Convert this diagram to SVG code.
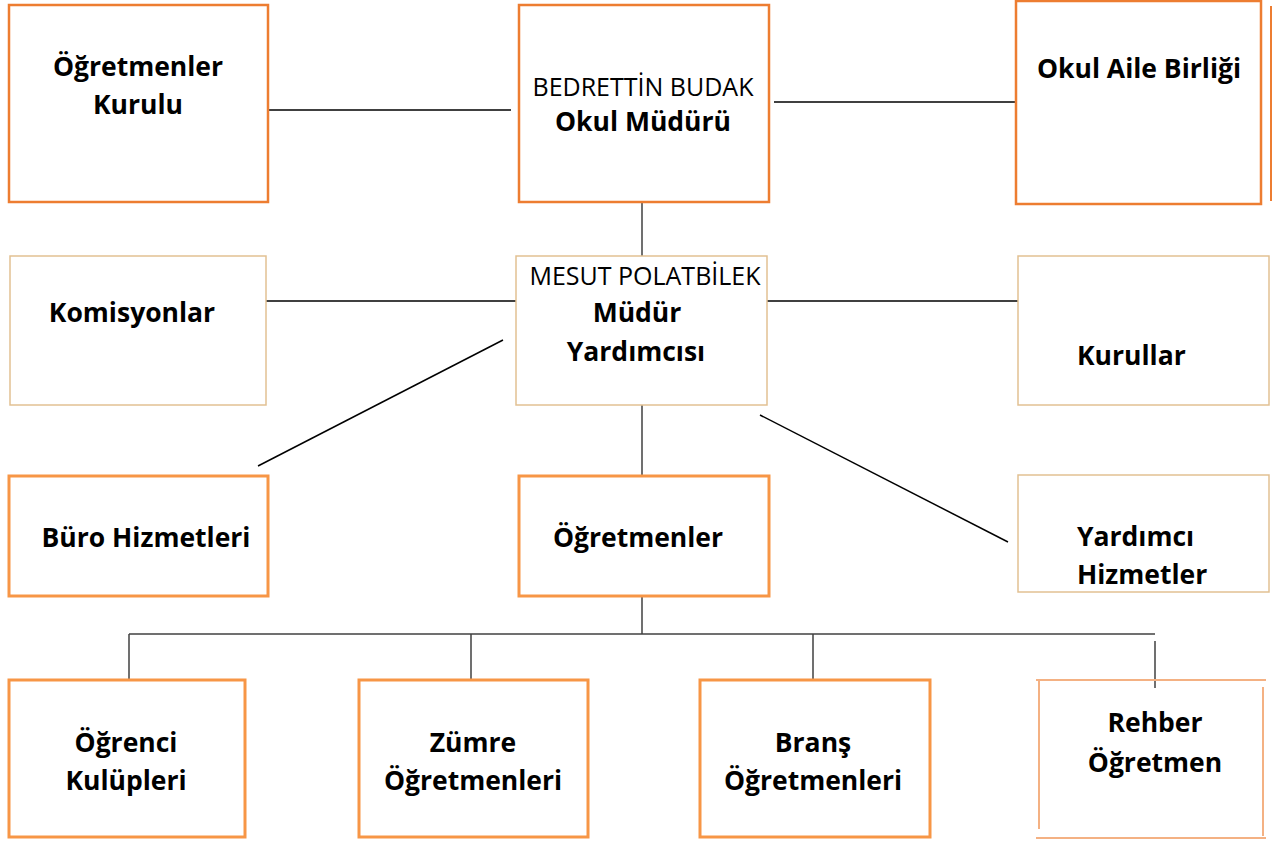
<svg xmlns="http://www.w3.org/2000/svg" width="1278" height="842" viewBox="0 0 1278 842">
<style>
text{font-family:"Open Sans","Noto Sans","Liberation Sans",sans-serif;font-size:25px;fill:#000;text-anchor:middle}
.b{font-weight:bold;font-size:26.5px}
.s{text-anchor:start}
.o1{fill:#fff;stroke:#ED7D31;stroke-width:2.5}
.o2{fill:#fff;stroke:#F79646;stroke-width:3}
.p{fill:#fff;stroke:#E2C193;stroke-width:1.5}
.r{stroke:#F4B183;stroke-width:2;fill:none}
.c{stroke:#000;stroke-width:1.5;fill:none}
.g{stroke:#404040;stroke-width:1.5;fill:none}
</style>
<rect width="1278" height="842" fill="#fff"/>
<g id="connectors">
<line class="c" x1="266" y1="110" x2="511" y2="110"/>
<line class="c" x1="774" y1="102" x2="1019" y2="102"/>
<line class="g" x1="642" y1="202" x2="642" y2="256"/>
<line class="c" x1="266" y1="301" x2="516" y2="301"/>
<line class="c" x1="767" y1="301" x2="1018" y2="301"/>
<line class="c" x1="503" y1="340" x2="258" y2="466"/>
<line class="c" x1="760" y1="415" x2="1008" y2="542"/>
<line class="g" x1="642" y1="405" x2="642" y2="476"/>
<line class="g" x1="642" y1="596" x2="642" y2="634"/>
<line class="g" x1="129" y1="634" x2="1155" y2="634"/>
<line class="g" x1="129" y1="634" x2="129" y2="680"/>
<line class="g" x1="471" y1="634" x2="471" y2="680"/>
<line class="g" x1="813" y1="634" x2="813" y2="680"/>
<line class="g" x1="1155" y1="641" x2="1155" y2="688"/>
</g>
<g id="ogretmenler-kurulu">
<rect class="o1" x="9" y="5" width="259" height="197"/>
<text class="b" x="138" y="76">Öğretmenler</text>
<text class="b" x="138" y="114">Kurulu</text>
</g>
<g id="okul-muduru">
<rect class="o1" x="519" y="5" width="250" height="197"/>
<text x="643" y="96">BEDRETTİN BUDAK</text>
<text class="b" x="643" y="131">Okul Müdürü</text>
</g>
<g id="okul-aile-birligi">
<rect class="o1" x="1016" y="1" width="245" height="203"/>
<line x1="1271" y1="6" x2="1271" y2="201" stroke="#ED7D31" stroke-width="2"/>
<text class="b" x="1139" y="78">Okul Aile Birliği</text>
</g>
<g id="komisyonlar">
<rect class="p" x="10" y="256" width="256" height="149"/>
<text class="b" x="132" y="322">Komisyonlar</text>
</g>
<g id="mudur-yardimcisi">
<rect class="p" x="516" y="256" width="251" height="149"/>
<text x="645" y="285">MESUT POLATBİLEK</text>
<text class="b" x="637" y="322">Müdür</text>
<text class="b" x="636" y="361">Yardımcısı</text>
</g>
<g id="kurullar">
<rect class="p" x="1018" y="256" width="251" height="149"/>
<text class="b s" x="1077" y="365">Kurullar</text>
</g>
<g id="buro-hizmetleri">
<rect class="o2" x="9" y="476" width="259" height="120"/>
<text class="b" x="146" y="547">Büro Hizmetleri</text>
</g>
<g id="ogretmenler">
<rect class="o2" x="519" y="476" width="250" height="120"/>
<text class="b" x="638" y="547">Öğretmenler</text>
</g>
<g id="yardimci-hizmetler">
<rect class="p" x="1018" y="475" width="251" height="117"/>
<text class="b s" x="1077" y="546">Yardımcı</text>
<text class="b s" x="1077" y="584">Hizmetler</text>
</g>
<g id="ogrenci-kulupleri">
<rect class="o2" x="9" y="680" width="236" height="157"/>
<text class="b" x="126" y="752">Öğrenci</text>
<text class="b" x="126" y="790">Kulüpleri</text>
</g>
<g id="zumre-ogretmenleri">
<rect class="o2" x="359" y="680" width="229" height="157"/>
<text class="b" x="473" y="752">Zümre</text>
<text class="b" x="473" y="790">Öğretmenleri</text>
</g>
<g id="brans-ogretmenleri">
<rect class="o2" x="700" y="680" width="230" height="157"/>
<text class="b" x="813" y="752">Branş</text>
<text class="b" x="813" y="790">Öğretmenleri</text>
</g>
<g id="rehber-ogretmen">
<line class="r" x1="1036" y1="680" x2="1266" y2="680"/>
<line class="r" x1="1039" y1="680" x2="1039" y2="829"/>
<line class="r" x1="1263" y1="687" x2="1263" y2="836"/>
<line class="r" x1="1036" y1="838" x2="1266" y2="838"/>
<text class="b" x="1155" y="732">Rehber</text>
<text class="b" x="1155" y="772">Öğretmen</text>
</g>
</svg>
